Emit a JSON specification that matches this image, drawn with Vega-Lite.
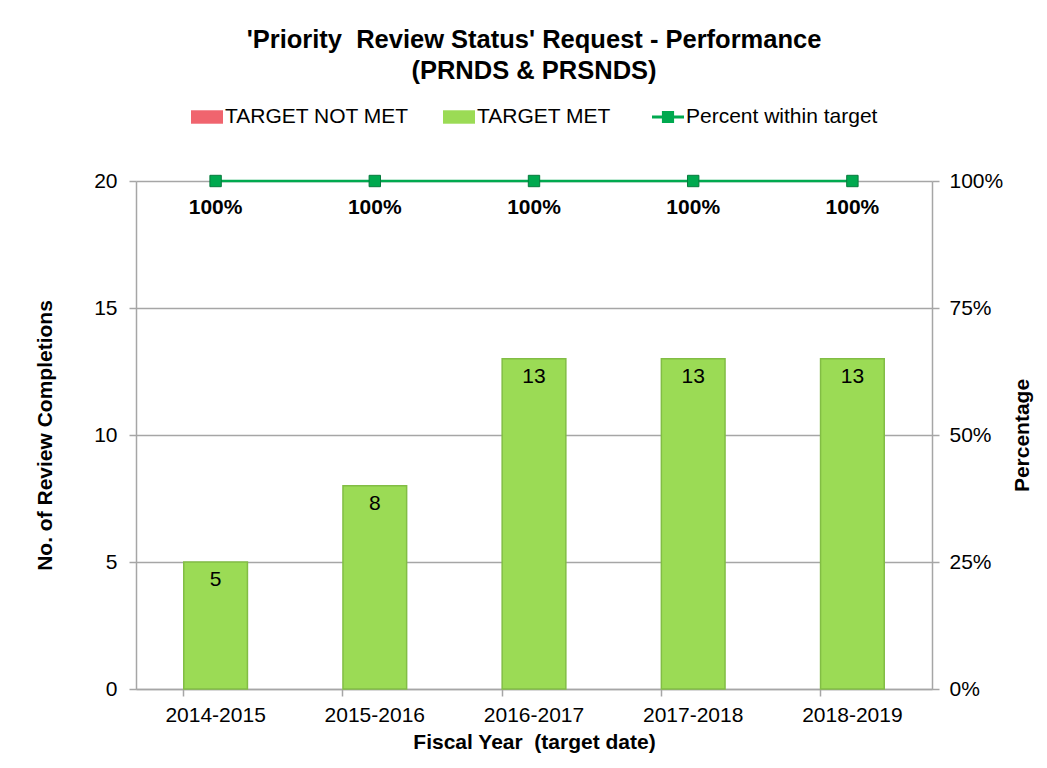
{
  "$schema": "https://vega.github.io/schema/vega-lite/v6.json",
  "width": 796,
  "height": 508,
  "autosize": {"type": "none"},
  "padding": {"left": 136, "top": 181, "right": 115, "bottom": 79},
  "background": "white",
  "config": {
    "font": "Liberation Sans",
    "view": {"stroke": null},
    "axis": {"labelFont": "Liberation Sans", "titleFont": "Liberation Sans"}
  },
  "title": {
    "text": ["'Priority\u00a0 Review Status' Request - Performance", "(PRNDS & PRSNDS)"],
    "font": "Liberation Sans",
    "fontSize": 25.5,
    "fontWeight": "bold",
    "color": "#000000",
    "anchor": "middle",
    "frame": "group",
    "offset": 17,
    "lineHeight": 31
  },
  "data": {
    "values": [
      {"year": "2014-2015", "count": 5, "status": "TARGET MET", "pct": 1, "series": "Percent within target"},
      {"year": "2015-2016", "count": 8, "status": "TARGET MET", "pct": 1, "series": "Percent within target"},
      {"year": "2016-2017", "count": 13, "status": "TARGET MET", "pct": 1, "series": "Percent within target"},
      {"year": "2017-2018", "count": 13, "status": "TARGET MET", "pct": 1, "series": "Percent within target"},
      {"year": "2018-2019", "count": 13, "status": "TARGET MET", "pct": 1, "series": "Percent within target"}
    ]
  },
  "encoding": {
    "x": {
      "field": "year",
      "type": "nominal",
      "sort": null,
      "scale": {"paddingInner": 0.6, "paddingOuter": 0.3},
      "axis": {
        "title": "Fiscal Year\u00a0 (target date)",
        "titleFontSize": 21,
        "titleFontWeight": "bold",
        "titleColor": "#000000",
        "titlePadding": 6,
        "labelFontSize": 21,
        "labelColor": "#000000",
        "labelAngle": 0,
        "labelPadding": 8,
        "bandPosition": 0,
        "tickSize": 7,
        "tickColor": "#A6A6A6",
        "tickWidth": 1.5,
        "domainColor": "#A6A6A6",
        "domainWidth": 1.5,
        "grid": false
      }
    }
  },
  "layer": [
    {
      "layer": [
        {
          "mark": {"type": "bar", "stroke": "#82BD45", "strokeWidth": 1.5},
          "encoding": {
            "y": {
              "field": "count",
              "type": "quantitative",
              "scale": {"domain": [0, 20], "nice": false},
              "axis": {
                "title": "No. of Review Completions",
                "titleFontSize": 21,
                "titleFontWeight": "bold",
                "titleColor": "#000000",
                "titlePadding": 38,
                "labelFontSize": 21,
                "labelColor": "#000000",
                "labelPadding": 12,
                "values": [0, 5, 10, 15, 20],
                "tickSize": 7,
                "tickColor": "#A6A6A6",
                "tickWidth": 1.5,
                "domainColor": "#A6A6A6",
                "domainWidth": 1.5,
                "grid": true,
                "gridColor": "#A6A6A6",
                "gridWidth": 1.5
              }
            },
            "color": {
              "field": "status",
              "type": "nominal",
              "scale": {
                "domain": ["TARGET NOT MET", "TARGET MET"],
                "range": ["#F0646E", "#9BDB55"]
              },
              "legend": {
                "title": null,
                "orient": "none",
                "legendX": 55,
                "legendY": -80,
                "direction": "horizontal",
                "columns": 2,
                "labelFontSize": 21,
                "labelColor": "#000000",
                "labelFont": "Liberation Sans",
                "labelLimit": 400,
                "symbolType": "M-1,-0.42H1V0.42H-1Z",
                "symbolSize": 1024,
                "symbolStrokeWidth": 0,
                "labelOffset": 2,
                "columnPadding": 34
              }
            }
          }
        },
        {
          "mark": {"type": "text", "baseline": "top", "dy": 7, "fontSize": 21, "font": "Liberation Sans", "color": "#000000"},
          "encoding": {
            "y": {"field": "count", "type": "quantitative", "title": "No. of Review Completions", "scale": {"domain": [0, 20], "nice": false}},
            "text": {"field": "count", "type": "quantitative"}
          }
        }
      ]
    },
    {
      "layer": [
        {
          "mark": {"type": "line", "color": "#00A94F", "strokeWidth": 2.5},
          "encoding": {
            "y": {
              "field": "pct",
              "type": "quantitative",
              "scale": {"domain": [0, 1], "nice": false},
              "axis": {
                "orient": "right",
                "title": "Percentage",
                "titleAngle": -90,
                "titleFontSize": 21,
                "titleFontWeight": "bold",
                "titleColor": "#000000",
                "titlePadding": 30,
                "labelFontSize": 21,
                "labelColor": "#000000",
                "labelPadding": 10,
                "format": ".0%",
                "values": [0, 0.25, 0.5, 0.75, 1],
                "tickSize": 7,
                "tickColor": "#A6A6A6",
                "tickWidth": 1.5,
                "domainColor": "#A6A6A6",
                "domainWidth": 1.5,
                "grid": false
              }
            }
          }
        },
        {
          "mark": {"type": "point", "shape": "square", "filled": true, "size": 130, "stroke": "#067A3C", "strokeWidth": 1, "opacity": 1},
          "encoding": {
            "y": {"field": "pct", "type": "quantitative", "title": "Percentage", "scale": {"domain": [0, 1], "nice": false}},
            "fill": {
              "field": "series",
              "type": "nominal",
              "scale": {"domain": ["Percent within target"], "range": ["#00A94F"]},
              "legend": {
                "title": null,
                "orient": "none",
                "legendX": 516,
                "legendY": -80,
                "labelFontSize": 21,
                "labelColor": "#000000",
                "labelFont": "Liberation Sans",
                "labelLimit": 400,
                "symbolType": "M-1,-0.1H1V0.1H-1Z M-0.38,-0.38H0.38V0.38H-0.38Z",
                "symbolSize": 1024,
                "symbolStrokeWidth": 0,
                "labelOffset": 2
              }
            }
          }
        },
        {
          "mark": {"type": "text", "baseline": "top", "dy": 16, "fontSize": 21, "fontWeight": "bold", "font": "Liberation Sans", "color": "#000000"},
          "encoding": {
            "y": {"field": "pct", "type": "quantitative", "title": "Percentage", "scale": {"domain": [0, 1], "nice": false}},
            "text": {"field": "pct", "type": "quantitative", "format": ".0%"}
          }
        }
      ]
    }
  ],
  "resolve": {"scale": {"y": "independent"}}
}
